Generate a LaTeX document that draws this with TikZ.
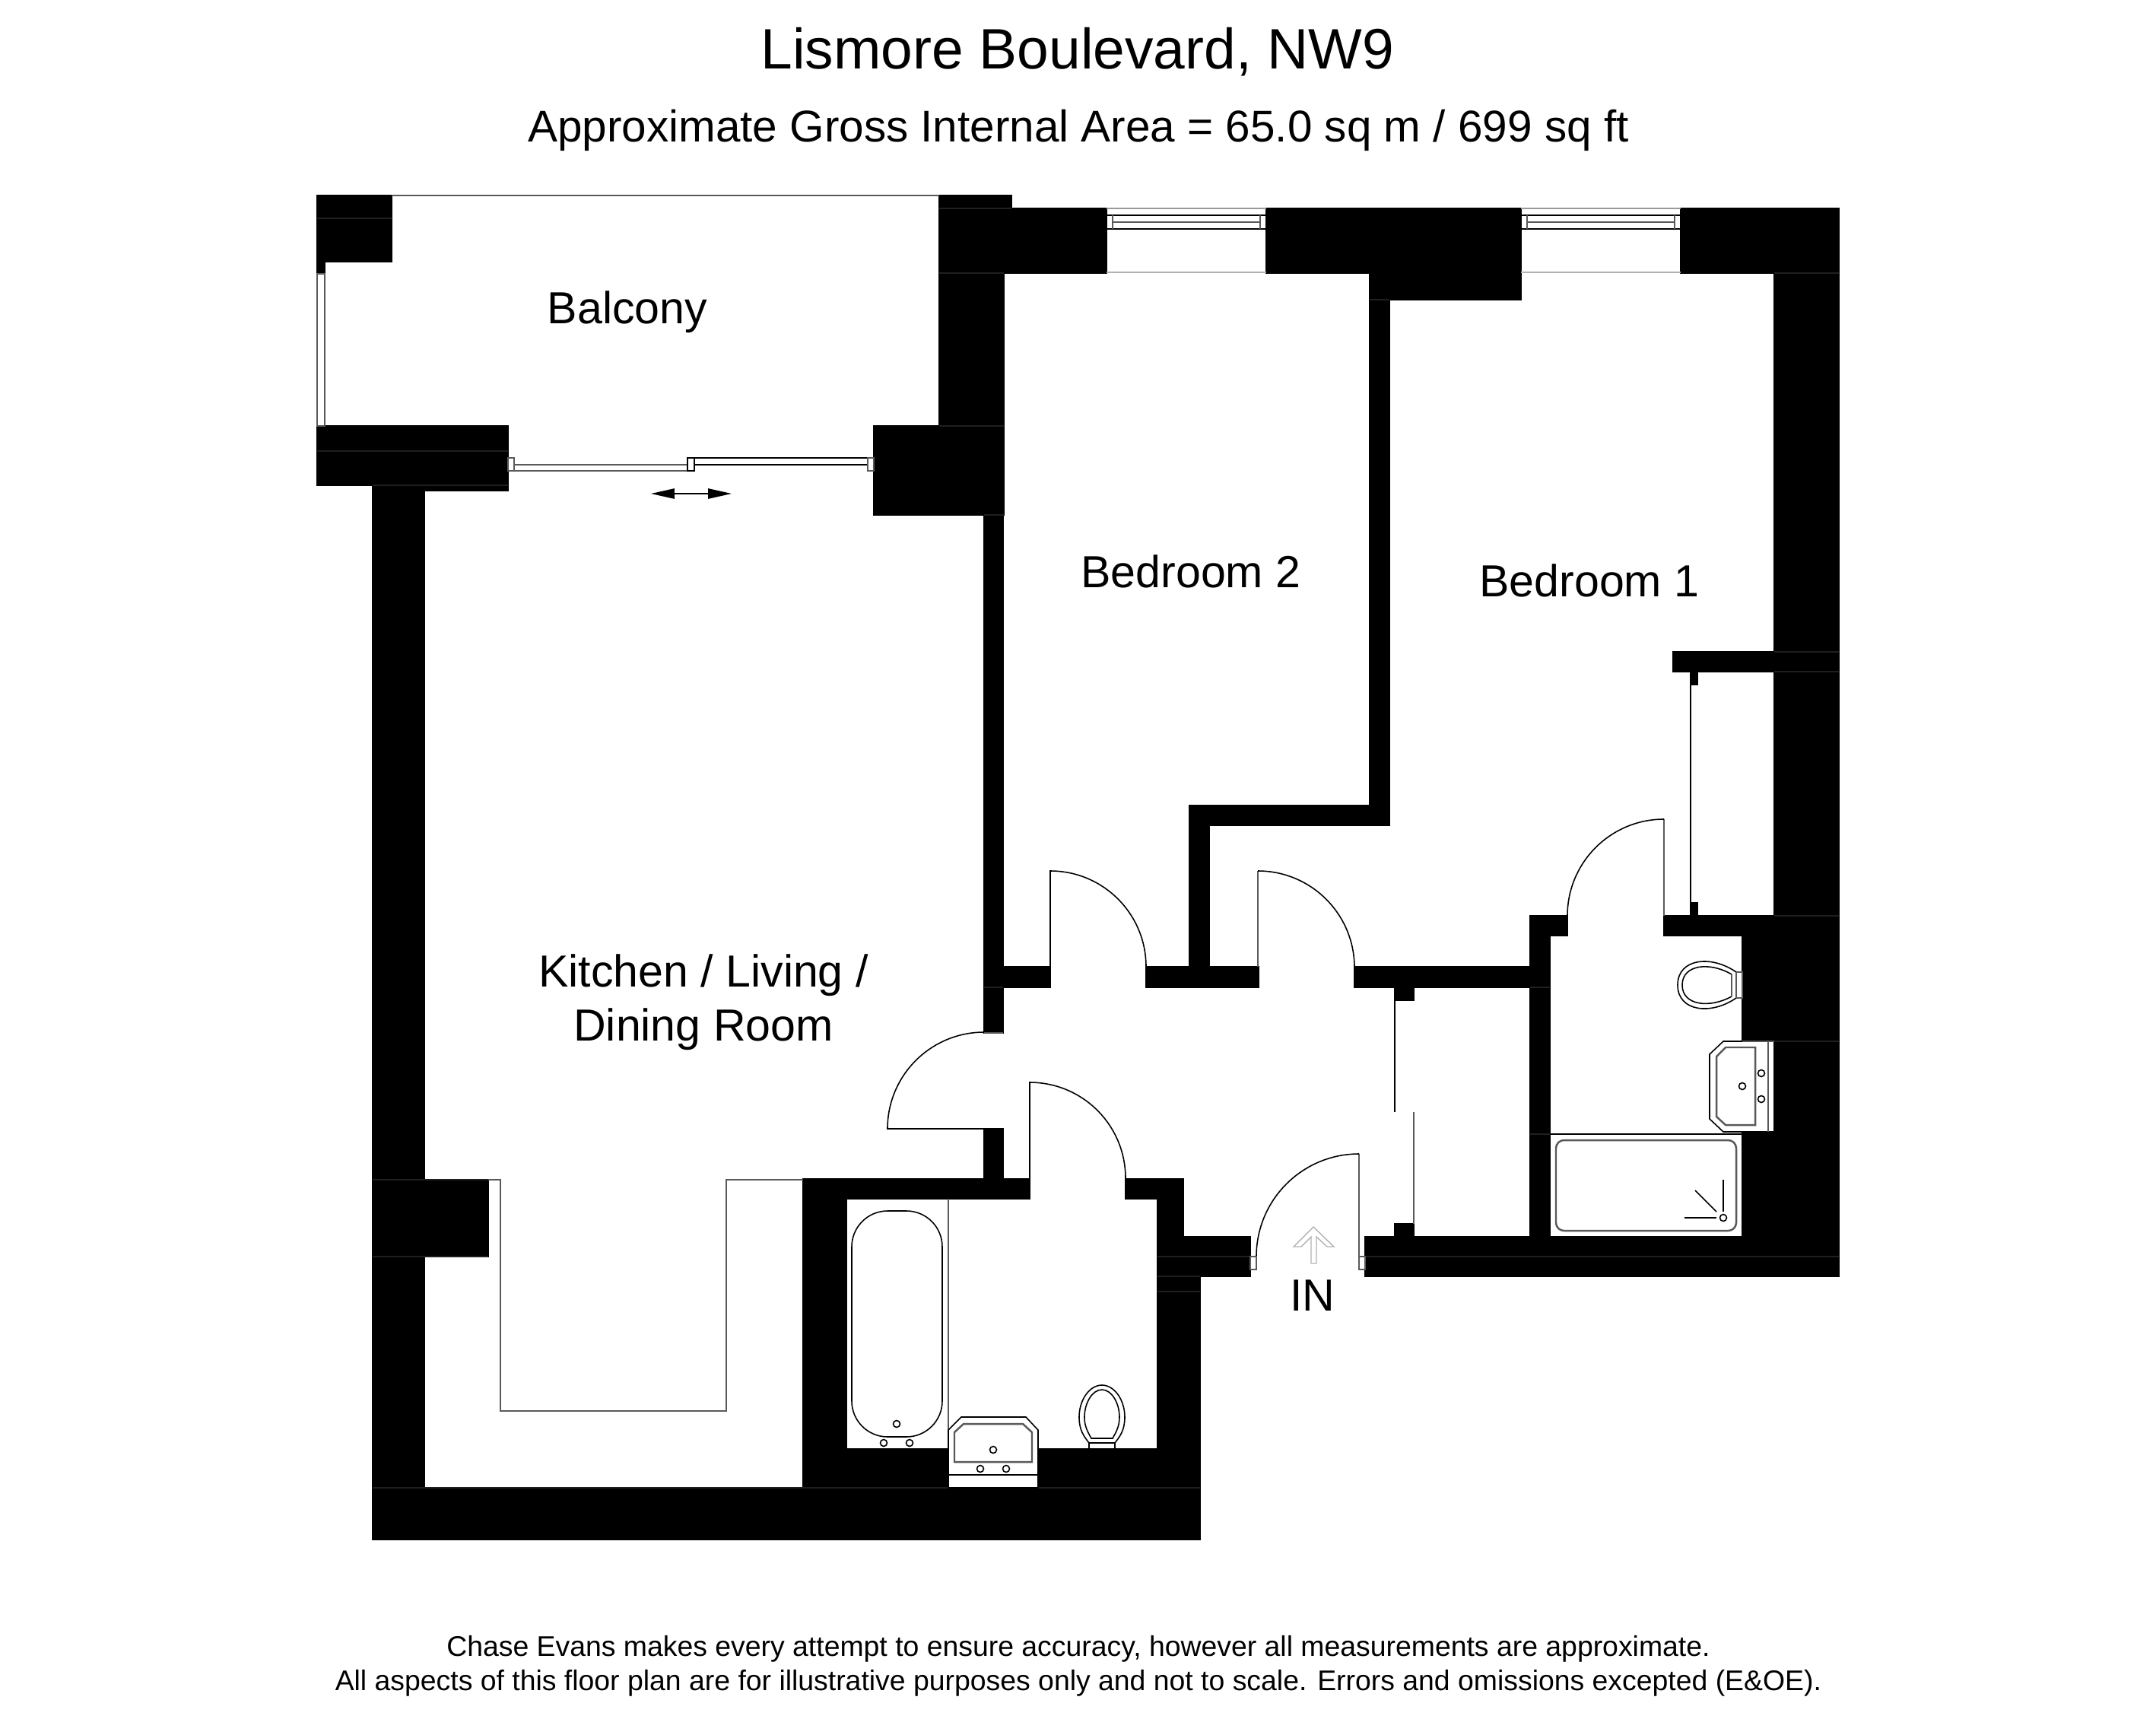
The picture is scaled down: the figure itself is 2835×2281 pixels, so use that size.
\documentclass[tikz,border=0pt]{standalone}
\usepackage{fontspec}
\setmainfont{Liberation Sans}
\usetikzlibrary{arrows.meta}
\begin{document}
\begin{tikzpicture}[
    x=0.01cm,y=-0.01cm,
    wall/.style={fill=black,draw=black,line width=0.3pt},
    seam/.style={draw=black!88,line width=0.3pt},
    fitting/.style={draw=black,line width=0.45pt},
    fine/.style={draw=black!65,line width=0.4pt},
    titletext/.style={anchor=base,inner sep=0pt,font=\fontsize{21.3}{25}\selectfont},
    subtext/.style={anchor=base,inner sep=0pt,font=\fontsize{16.62}{20}\selectfont},
    roomlabel/.style={anchor=base,inner sep=0pt,align=center,font=\fontsize{16.8}{20.2}\selectfont},
    noticetext/.style={anchor=base,inner sep=0pt,font=\fontsize{10.63}{13}\selectfont}
    ]
	\useasboundingbox (0,0) rectangle (2835,2281);
	\node [titletext] (title) at (1417,90) {Lismore Boulevard, NW9};
	\node [subtext] (area) at (1418,186) {Approximate Gross Internal Area = 65.0 sq m / 699 sq ft};
	\node [roomlabel] (balcony) at (825,425) {Balcony};
	\node [roomlabel] (bedtwo) at (1566,772) {Bedroom 2};
	\node [roomlabel] (bedone) at (2090,784) {Bedroom 1};
	\node [roomlabel,anchor=center] (kitchen) at (925,1318) {Kitchen / Living /\\ Dining Room};
	\node [roomlabel] (entry) at (1726,1723) {IN};
	\node [noticetext] (noticeone) at (1418,2177) {Chase Evans makes every attempt to ensure accuracy, however all measurements are approximate.};
	\node [noticetext] (noticetwo) at (1418,2222) {All aspects of this floor plan are for illustrative purposes only and not to scale. Errors and omissions excepted (E\&OE).};

	\fill [wall] (417,257) rectangle (515,344);
	\fill [wall] (417,344) rectangle (427,360);
	\fill [wall] (417,560) -- (668,560) -- (668,645) -- (490,645) -- (490,638) -- (417,638) -- cycle;
	\fill [wall] (1149,560) rectangle (1320,677);
	\fill [wall] (1235,257) -- (1330,257) -- (1330,274) -- (1320,274) -- (1320,560) -- (1235,560) -- cycle;
	\fill [wall] (1320,274) rectangle (1455,359);
	\fill [wall] (1665,274) rectangle (2000,359);
	\fill [wall] (2210,274) rectangle (2418,359);
	\fill [wall] (1801,359) rectangle (2000,394);
	\fill [wall] (1801,394) rectangle (1827,1085);
	\fill [wall] (1564,1059) rectangle (1801,1085);
	\fill [wall] (1564,1085) rectangle (1590,1271);
	\fill [wall] (2333,359) rectangle (2418,1678);
	\fill [wall] (2200,857) rectangle (2333,883);
	\fill [wall] (2223,883) rectangle (2232,900);
	\fill [wall] (2223,1187) rectangle (2232,1204);
	\fill [wall] (2291,1204) rectangle (2333,1369);
	\fill [wall] (2291,1488) rectangle (2333,1678);
	\fill [wall] (2012,1204) rectangle (2061,1230);
	\fill [wall] (2188,1204) rectangle (2291,1230);
	\fill [wall] (2012,1230) rectangle (2038,1626);
	\fill [wall] (1795,1626) rectangle (2333,1678);
	\fill [wall] (1834,1609) rectangle (1859,1626);
	\fill [wall] (1834,1298) rectangle (1859,1315);
	\fill [wall] (1294,677) rectangle (1319,1358);
	\fill [wall] (1319,1271) rectangle (1381,1298);
	\fill [wall] (1507,1271) rectangle (1655,1298);
	\fill [wall] (1781,1271) rectangle (2012,1298);
	\fill [wall] (1294,1484) rectangle (1319,1550);
	\fill [wall] (1056,1550) rectangle (1354,1576);
	\fill [wall] (1480,1550) -- (1556,1550) -- (1556,1626) -- (1644,1626) -- (1644,1678) -- (1578,1678) -- (1578,1956) -- (1522,1956) -- (1522,1576) -- (1480,1576) -- cycle;
	\fill [wall] (490,645) rectangle (558,1956);
	\fill [wall] (558,1551) rectangle (642,1652);
	\fill [wall] (1056,1576) rectangle (1113,1956);
	\fill [wall] (1113,1905) rectangle (1247,1956);
	\fill [wall] (1365,1905) rectangle (1522,1956);
	\fill [wall] (490,1956) rectangle (1578,2024);

	\draw [seam] (417,287) -- (515,287);
	\draw [seam] (417,593) -- (668,593);
	\draw [seam] (490,638) -- (668,638);
	\draw [seam] (1235,274) -- (1330,274);
	\draw [seam] (1235,359) -- (1320,359);
	\draw [seam] (1235,560) -- (1320,560);
	\draw [seam] (1294,677) -- (1320,677);
	\draw [seam] (1294,1298) -- (1319,1298);
	\draw [seam] (1801,394) -- (1827,394);
	\draw [seam] (2333,359) -- (2418,359);
	\draw [seam] (2333,857) -- (2418,857);
	\draw [seam] (2333,883) -- (2418,883);
	\draw [seam] (2333,1204) -- (2418,1204);
	\draw [seam] (2333,1369) -- (2418,1369);
	\draw [seam] (2012,1298) -- (2038,1298);
	\draw [seam] (2012,1491) -- (2038,1491);
	\draw [seam] (1795,1652) -- (2418,1652);
	\draw [seam] (1522,1652) -- (1644,1652);
	\draw [seam] (1522,1678) -- (1578,1678);
	\draw [seam] (1522,1698) -- (1578,1698);
	\draw [seam] (490,1551) -- (642,1551);
	\draw [seam] (490,1652) -- (642,1652);
	\draw [seam] (490,1956) -- (1247,1956);
	\draw [seam] (1365,1956) -- (1578,1956);

	\draw [fine] (515,257) -- (1235,257);
	\draw [fine] (417,360) rectangle (427,560);

	\draw [fine] (668,602) rectangle (676,619);
	\draw [fine] (676,611) rectangle (904,619);
	\draw [fitting] (904,602) rectangle (913,619);
	\draw [fitting] (913,602) rectangle (1141,611);
	\draw [fine] (1141,602) rectangle (1149,619);
	\draw [fitting,{Triangle[length=8.8pt,width=3.8pt]}-{Triangle[length=8.8pt,width=3.8pt]}] (856,649) -- (962,649);

	\foreach \wx in {1455,2000}{
		\draw [black!40,line width=0.4pt] (\wx,274) -- (\wx+210,274);
		\draw [fitting] (\wx,283) rectangle (\wx+210,301);
		\draw [fine] (\wx+8,283) -- (\wx+8,301);
		\draw [fine] (\wx+202,283) -- (\wx+202,301);
		\draw [fine] (\wx+8,292) -- (\wx+202,292);
		\draw [black!30,line width=0.4pt] (\wx,358) -- (\wx+210,358);
	}

	\draw [fitting] (1381,1271) -- (1381,1145) arc (-90:0:126);
	\draw [fine] (1654,1271) -- (1654,1145);
	\draw [fitting] (1654,1145) arc (-90:0:127);
	\draw [fitting] (1294,1484) -- (1167,1484) arc (180:270:127);
	\draw [fine] (1294,1358) -- (1319,1358);
	\draw [fitting] (1354,1550) -- (1354,1423) arc (-90:0:126);
	\draw [fine] (1787,1652) -- (1787,1517);
	\draw [fitting] (1787,1517) arc (-90:-180:135);
	\draw [fine] (2188,1204) -- (2188,1077);
	\draw [fitting] (2188,1077) arc (-90:-180:127);

	\draw [fine] (1644,1652) rectangle (1652,1669);
	\draw [fine] (1787,1652) rectangle (1795,1669);
	\draw [fitting] (1834,1315) -- (1834,1462);
	\draw [fine] (1859,1462) -- (1859,1609);
	\draw [fitting] (2223,900) -- (2223,1187);
	\draw [black!30,line width=0.4pt] (1727,1613) -- (1754,1639) -- (1745,1639) -- (1731,1626) -- (1731,1661) -- (1724,1661) -- (1724,1626) -- (1711,1639) -- (1701,1639) -- cycle;

	\draw [fine] (2283,1278) rectangle (2291,1312);
	\draw [fitting] (2283,1278) .. controls (2250,1255) and (2206,1260) .. (2206,1295) .. controls (2206,1330) and (2250,1335) .. (2283,1312);
	\draw [fitting] (2277,1281) .. controls (2248,1264) and (2212,1268) .. (2212,1295) .. controls (2212,1322) and (2248,1326) .. (2277,1310);
	\draw [fine,line width=0.7pt] (2277,1281) -- (2277,1310);
	\draw [fine] (2283,1278) -- (2283,1312);

	\draw [fitting] (2291,1369) -- (2266,1369) -- (2248,1386) -- (2248,1471) -- (2266,1488) -- (2333,1488);
	\draw [fine] (2291,1369) -- (2333,1369);
	\draw [fine,line width=0.7pt] (2325,1369) -- (2325,1488);
	\draw [fine,line width=0.7pt] (2269,1377) -- (2308,1377) -- (2308,1479) -- (2269,1479) -- (2257,1468) -- (2257,1389) -- cycle;
	\draw [fitting] (2291,1428) circle (4.5);
	\draw [fitting] (2316,1411) circle (4.5);
	\draw [fitting] (2316,1445) circle (4.5);

	\draw [fitting] (2038,1491) -- (2291,1491);
	\draw [fine,line width=0.7pt,rounded corners=3pt] (2046,1499) rectangle (2283,1618);
	\draw [fitting] (2266,1601) circle (4.5);
	\draw [fitting] (2266,1551) -- (2266,1593);
	\draw [fitting] (2215,1601) -- (2257,1601);
	\draw [fitting] (2229,1565) -- (2257,1593);

	\draw [fine] (642,1551) -- (658,1551) -- (658,1855) -- (955,1855) -- (955,1551) -- (1056,1551);
	\draw [fine] (1247,1576) -- (1247,1880);

	\draw [fitting,rounded corners=13.4pt] (1120,1592) rectangle (1239,1889);
	\draw [fitting] (1179,1872) circle (4.5);
	\draw [fitting] (1162,1897) circle (4.5);
	\draw [fitting] (1196,1897) circle (4.5);

	\draw [fitting] (1247,1956) -- (1247,1880) -- (1264,1863) -- (1349,1863) -- (1365,1880) -- (1365,1956);
	\draw [fitting] (1247,1939) -- (1365,1939);
	\draw [fine,line width=0.7pt] (1255,1883) -- (1267,1872) -- (1345,1872) -- (1357,1883) -- (1357,1922) -- (1255,1922) -- cycle;
	\draw [fitting] (1306,1906) circle (4.5);
	\draw [fitting] (1289,1931) circle (4.5);
	\draw [fitting] (1323,1931) circle (4.5);

	\draw [fitting] (1432,1905) -- (1432,1897) -- (1466,1897) -- (1466,1905);
	\draw [fitting] (1432,1897) .. controls (1425,1888) and (1419,1880) .. (1419,1863) .. controls (1419,1840) and (1433,1821) .. (1449,1821) .. controls (1465,1821) and (1479,1840) .. (1479,1863) .. controls (1479,1880) and (1473,1888) .. (1466,1897);
	\draw [fitting] (1435,1891) .. controls (1430,1882) and (1426,1875) .. (1426,1863) .. controls (1426,1845) and (1436,1827) .. (1449,1827) .. controls (1462,1827) and (1472,1845) .. (1472,1863) .. controls (1472,1875) and (1468,1882) .. (1463,1891) -- cycle;
\end{tikzpicture}
\end{document}
